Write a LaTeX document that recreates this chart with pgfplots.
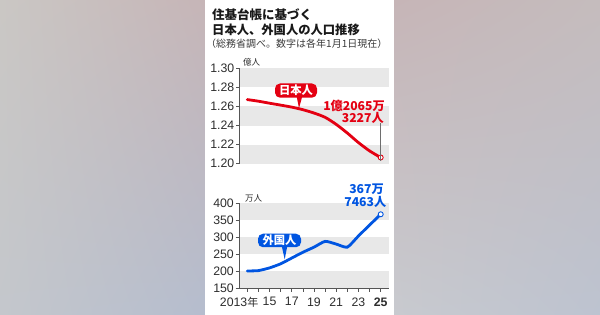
\documentclass[border=0pt]{standalone}
\usepackage{pgfplots}
\pgfplotsset{compat=1.18}
\usetikzlibrary{shadings}
\usepackage{fontspec}
\setmainfont{Liberation Sans}
\newfontfamily\jp{Noto Sans CJK JP}
\definecolor{jred}{RGB}{228,0,18}
\definecolor{fblue}{RGB}{0,85,225}
\definecolor{band}{RGB}{232,232,232}
\definecolor{axgray}{RGB}{85,85,85}
\definecolor{tickcol}{RGB}{45,45,45}
\definecolor{bgTL}{RGB}{202,199,196}
\definecolor{bgTR}{RGB}{198,181,183}
\definecolor{bgBL}{RGB}{196,199,204}
\definecolor{bgBR}{RGB}{181,189,206}
\definecolor{rTL}{RGB}{198,181,183}
\definecolor{rTR}{RGB}{197,188,189}
\definecolor{rBL}{RGB}{200,202,207}
\definecolor{rBR}{RGB}{189,195,208}
\definecolor{ttl}{RGB}{25,25,25}
\definecolor{subt}{RGB}{60,60,60}
\definecolor{leader}{RGB}{110,110,110}

\begin{document}
\begin{tikzpicture}[x=1pt,y=1pt]
\useasboundingbox (0,0) rectangle (600,315);
\shade[upper left=bgTL, upper right=bgTR, lower left=bgBL, lower right=bgBR] (0,0) rectangle (205,315);
\shade[upper left=rTL, upper right=rTR, lower left=rBL, lower right=rBR] (394,0) rectangle (600,315);
\fill[white] (205,0) rectangle (394,315);

% ---------- Japanese nationals ----------
\begin{axis}[
  at={(239pt,151.3pt)}, anchor=south west,
  scale only axis, width=150pt, height=95.4pt,
  xmin=2012.254, xmax=2025.746, ymin=1.20, ymax=1.30,
  axis x line=none, axis y line*=left,
  axis line style={axgray, line width=0.7pt},
  ytick={1.20,1.22,1.24,1.26,1.28,1.30},
  yticklabels={1.20,1.22,1.24,1.26,1.28,1.30},
  ytick pos=left, tick align=outside, major tick length=3pt,
  tick style={axgray, line width=0.7pt},
  yticklabel style={font=\fontsize{12.3}{12.3}\selectfont, text=tickcol, inner xsep=1.5pt},
  /pgf/number format/assume math mode=true,
  clip=false, axis on top,
]
\fill[band] (axis cs:2012.254,1.28) rectangle (axis cs:2025.746,1.30);
\fill[band] (axis cs:2012.254,1.24) rectangle (axis cs:2025.746,1.26);
\fill[band] (axis cs:2012.254,1.20) rectangle (axis cs:2025.746,1.22);
\addplot[jred, line width=2.8pt, smooth, tension=0.45, line cap=round] coordinates {
 (2013,1.2672) (2014,1.2655) (2015,1.2634) (2016,1.2614) (2017,1.2593)
 (2018,1.2566) (2019,1.2531) (2020,1.2486) (2021,1.2412) (2022,1.2321)
 (2023,1.2221) (2024,1.2134) (2025,1.2065)};
\addplot[only marks, mark=*, mark size=2.5pt, mark options={fill=white, draw=jred, line width=0.9pt}] coordinates {(2025,1.2065)};
\end{axis}

% ---------- Foreign residents ----------
\begin{axis}[
  at={(239pt,26.7pt)}, anchor=south west,
  scale only axis, width=150pt, height=85pt,
  xmin=2012.254, xmax=2025.746, ymin=150, ymax=400,
  axis x line*=bottom, axis y line*=left,
  axis line style={axgray, line width=0.7pt},
  ytick={150,200,250,300,350,400},
  xtick={2013,...,2025},
  xticklabels={\makebox[0pt][r]{2013}\makebox[0pt][l]{\jp\fontsize{11}{11}\selectfont 年},,15,,17,,19,,21,,23,,\textbf{25}},
  ytick pos=left, xtick pos=bottom, tick align=outside, major tick length=3.5pt,
  tick style={axgray, line width=0.7pt},
  yticklabel style={font=\fontsize{12.3}{12.3}\selectfont, text=tickcol, inner xsep=1.5pt},
  xticklabel style={font=\fontsize{12.3}{12.3}\selectfont, text=tickcol, inner ysep=5.5pt},
  /pgf/number format/assume math mode=true,
  clip=false, axis on top,
]
\fill[band] (axis cs:2012.254,350) rectangle (axis cs:2025.746,400);
\fill[band] (axis cs:2012.254,250) rectangle (axis cs:2025.746,300);
\fill[band] (axis cs:2012.254,150) rectangle (axis cs:2025.746,200);
\addplot[fblue, line width=2.8pt, smooth, tension=0.35, line cap=round] coordinates {
 (2013,201) (2014,202) (2015,210) (2016,222) (2017,239) (2018,256)
 (2019,271) (2020,288) (2021,280) (2022,271) (2023,304) (2024,336) (2025,367.7)};
\addplot[only marks, mark=*, mark size=2.5pt, mark options={fill=white, draw=fblue, line width=0.9pt}] coordinates {(2025,367.7)};
\end{axis}

% ---------- titles ----------
\node[anchor=west, inner sep=0, text=ttl] at (212,300.5) {\jp\bfseries\fontsize{12.5}{12.5}\selectfont 住基台帳に基づく};
\node[anchor=west, inner sep=0, text=ttl] at (212,285.5) {\jp\bfseries\fontsize{12.3}{12.3}\selectfont 日本人、外国人の人口推移};
\node[anchor=west, inner sep=0, text=subt] at (206,271.2) {\jp\fontsize{10}{10}\selectfont （総務省調べ。数字は各年1月1日現在）};
\node[anchor=west, inner sep=0, text=tickcol] at (243,252.5) {\jp\fontsize{8.5}{8.5}\selectfont 億人};
\node[anchor=west, inner sep=0, text=tickcol] at (245,116.5) {\jp\fontsize{8.5}{8.5}\selectfont 万人};

% ---------- annotations ----------
\fill[jred] (296.5,219.5) -- (302.5,219.5) -- (299,206.7) -- cycle;
\node[fill=jred, rounded corners=5pt, text=white, inner sep=0, minimum width=42pt, minimum height=14.2pt] at (296,224.4) {\jp\bfseries\fontsize{11.3}{11.3}\selectfont 日本人};
\node[anchor=east, inner sep=0, text=jred] at (385,208.7) {\jp\bfseries\fontsize{12.2}{12.2}\selectfont 1億2065万};
\node[anchor=east, inner sep=0, text=jred] at (384,197.5) {\jp\bfseries\fontsize{12.2}{12.2}\selectfont 3227人};
\draw[leader, line width=0.6pt] (380.5,192) -- (380.5,154);

\fill[fblue] (281.5,70) -- (287.5,70) -- (284.7,55.7) -- cycle;
\node[fill=fblue, rounded corners=5pt, text=white, inner sep=0, minimum width=43pt, minimum height=13.5pt] at (279.5,74.5) {\jp\bfseries\fontsize{11.3}{11.3}\selectfont 外国人};
\node[anchor=east, inner sep=0, text=fblue] at (384,125.5) {\jp\bfseries\fontsize{12.2}{12.2}\selectfont 367万};
\node[anchor=east, inner sep=0, text=fblue] at (386.5,113) {\jp\bfseries\fontsize{12.2}{12.2}\selectfont 7463人};
\end{tikzpicture}
\end{document}
